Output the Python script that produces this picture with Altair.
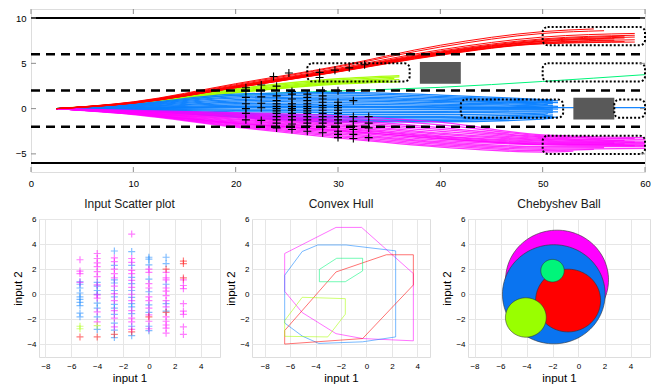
import altair as alt
import numpy as np
import pandas as pd

FONT = "Liberation Sans"

# ---------------- top panel data ----------------
TRAJ_START = (2.5, 0.0)
KNOTS5 = [10, 20, 30, 40, 50]      # x of intermediate knots (then individual end point)
KNOTS3 = [10, 20, 30]

# rows: y@10, y@20, y@30, y@40, y@50, y_end, x_end
green_traj = [[0.5, 1.5, 1.95, 2.35, 3.0, 3.75, 60]]

# rows: y@10, y@20, y@30, y_end, x_end
lime_traj = [
    [0.62, 2.2, 3.3, 3.65, 36],
    [0.58, 2.1, 3.15, 3.5, 36],
    [0.55, 2.0, 3.0, 3.35, 35.5],
    [0.52, 1.9, 2.9, 3.2, 36],
    [0.5, 1.8, 2.8, 3.05, 35],
    [0.48, 1.75, 2.7, 2.95, 36],
]

red_traj = [
    [0.75, 2.75, 4.7, 7.0, 8.5, 8.8, 55],
    [0.72, 2.65, 4.6, 6.8, 8.3, 8.6, 56],
    [0.70, 2.55, 4.45, 6.5, 7.9, 8.3, 59],
    [0.68, 2.50, 4.35, 6.35, 7.7, 8.1, 59],
    [0.66, 2.45, 4.30, 6.25, 7.6, 8.0, 58],
    [0.65, 2.42, 4.25, 6.2, 7.5, 7.9, 59],
    [0.64, 2.40, 4.20, 6.15, 7.45, 7.8, 58],
    [0.63, 2.38, 4.17, 6.1, 7.4, 7.7, 57],
    [0.62, 2.35, 4.15, 6.05, 7.3, 7.6, 59],
    [0.61, 2.33, 4.10, 6.0, 7.25, 7.5, 57],
    [0.60, 2.30, 4.08, 5.95, 7.2, 7.4, 58],
    [0.60, 2.30, 4.05, 5.9, 7.15, 7.35, 59],
]

blue_traj = [
    [0.50, 1.60, 1.80, 1.50, 1.00, 0.95, 51],
    [0.45, 1.45, 1.65, 1.35, 0.90, 0.85, 51.5],
    [0.40, 1.30, 1.50, 1.20, 0.80, 0.75, 51],
    [0.35, 1.15, 1.30, 1.05, 0.70, 0.65, 51.5],
    [0.30, 1.00, 1.15, 0.90, 0.60, 0.55, 51],
    [0.25, 0.85, 1.00, 0.80, 0.50, 0.45, 50.5],
    [0.20, 0.70, 0.85, 0.65, 0.40, 0.35, 51],
    [0.15, 0.55, 0.65, 0.50, 0.30, 0.25, 51.5],
    [0.10, 0.40, 0.50, 0.35, 0.20, 0.15, 51],
    [0.05, 0.25, 0.30, 0.20, 0.10, 0.05, 51],
    [0.05, 0.20, 0.25, 0.15, 0.10, 0.10, 60],
    [0.00, 0.10, 0.15, 0.05, 0.00, -0.05, 51.5],
    [-0.02, -0.05, -0.05, -0.10, -0.10, -0.15, 51],
    [-0.05, -0.20, -0.25, -0.30, -0.25, -0.25, 51],
    [-0.08, -0.35, -0.45, -0.45, -0.35, -0.35, 51.5],
    [-0.10, -0.50, -0.65, -0.65, -0.50, -0.45, 51],
    [-0.12, -0.60, -0.85, -0.85, -0.65, -0.55, 50.5],
    [-0.15, -0.70, -1.00, -1.00, -0.80, -0.70, 51],
    [-0.18, -0.80, -1.15, -1.15, -0.90, -0.85, 51],
    [-0.20, -0.90, -1.30, -1.30, -1.00, -0.95, 51.5],
    [-0.22, -0.95, -1.45, -1.45, -1.15, -1.05, 51],
]

magenta_traj = [
    [-0.20, -0.45, -0.80, -1.50, -2.90, -3.20, 60],
    [-0.25, -0.55, -1.00, -1.80, -3.00, -3.30, 59],
    [-0.30, -0.65, -1.20, -2.10, -3.10, -3.40, 60],
    [-0.32, -0.75, -1.35, -2.30, -3.20, -3.50, 58],
    [-0.35, -0.85, -1.50, -2.50, -3.30, -3.60, 60],
    [-0.38, -0.95, -1.65, -2.70, -3.40, -3.70, 59],
    [-0.40, -1.05, -1.80, -2.85, -3.50, -3.75, 60],
    [-0.42, -1.15, -1.95, -3.00, -3.60, -3.80, 57],
    [-0.45, -1.25, -2.10, -3.10, -3.70, -3.85, 60],
    [-0.47, -1.35, -2.20, -3.20, -3.80, -3.90, 58],
    [-0.50, -1.45, -2.35, -3.35, -3.90, -4.00, 60],
    [-0.52, -1.55, -2.50, -3.50, -4.00, -4.10, 59],
    [-0.55, -1.65, -2.65, -3.65, -4.20, -4.20, 60],
    [-0.58, -1.75, -2.80, -3.80, -4.35, -4.30, 56],
    [-0.60, -1.85, -2.95, -3.95, -4.50, -4.40, 60],
    [-0.62, -1.95, -3.10, -4.10, -4.65, -4.50, 55],
    [-0.65, -2.05, -3.25, -4.25, -4.80, -4.70, 53],
    [-0.55, -1.60, -2.40, -3.30, -3.95, -4.05, 60],
]

# black "+" markers on the top panel
mark_x = ([21.0] * 7 + [22.5] * 6 + [24.0] * 12 + [25.5] * 12 + [27.0] * 13
          + [28.5] * 13 + [30.0] * 12 + [31.5] * 7 + [33.0] * 4
          + [23.7, 25.2, 28.2, 28.2, 29.7, 31.1, 32.6])
mark_y = ([2.3, 1.96, 1.24, 0.53, 0.0, -0.53, -1.24]
          + [2.6, 2.0, 1.3, 0.6, 0.1, -1.3]
          + [2.48, 1.41, 0.88, 0.53, 0.25, 0.0, -0.25, -0.53, -0.88, -1.24, -1.6, -2.13]
          + [1.6, 1.06, 0.53, 0.25, 0.0, -0.18, -0.53, -0.88, -1.24, -1.7, -2.3, 1.9]
          + [1.6, 1.24, 0.88, 0.53, 0.25, 0.0, -0.25, -0.53, -0.88, -1.24, -1.6, -1.95, -2.5]
          + [1.96, 1.41, 1.06, 0.7, 0.35, 0.1, -0.18, -0.53, -0.88, -1.24, -1.6, -2.0, -2.66]
          + [1.96, 0.7, 0.35, 0.1, -0.18, -0.53, -0.88, -1.24, -1.6, -2.5, -2.84, -3.2]
          + [0.88, -0.88, -1.4, -1.95, -2.31, -2.84, -3.3]
          + [-0.88, -1.6, -2.13, -3.2]
          + [3.54, 3.93, 4.0, 3.44, 4.25, 4.5, 4.85])

solid_lane_y = [10, -6]
dashed_lane_y = [6, 2, -2]

zone_x1 = [27, 50, 50, 42, 57, 50]
zone_x2 = [37, 60, 60, 52, 60, 60]
zone_y1 = [3, 7, 3, -1, -1, -5]
zone_y2 = [5, 9, 5, 1, 1, -3]

obst_x1 = [38, 53]
obst_x2 = [42, 57]
obst_y1 = [2.75, -1.2]
obst_y2 = [5.15, 1.2]

top_xticks = [0, 10, 20, 30, 40, 50, 60]
top_yticks = [-5, 0, 5, 10]

# ---------------- bottom panels data ----------------
C = [-5.33, -4.0, -2.67, -1.33, 0.0, 1.33, 2.67]
scatter_blue = {
    0: [1.0, 0.8, 0.5, 0.1, -0.2, -0.4, -0.65, -0.9, -1.5, -1.8],
    1: [0.95, 0.65, 0.3, 0.0, -0.7, -1.1, -1.8, -2.8],
    2: [3.45, 2.3, 1.15, 0.9, 0.3, -0.2, -0.8, -1.1, -1.6, -2.3, -2.85, -3.45],
    3: [3.4, 2.3, 1.35, 0.85, 0.3, -0.25, -0.75, -1.0, -1.55, -2.55, -3.3],
    4: [2.95, 2.8, 2.35, 1.2, 0.2, -0.85, -1.45, -2.55, -2.9],
    5: [2.95, 2.45, 0.8, -0.75, -1.35],
}
scatter_magenta = {
    0: [2.75, 1.85, 1.65, 0.95],
    1: [3.25, 2.85, 2.5, 2.2, 1.8, 1.4, 0.75, -0.05, -0.3, -1.4, -2.2],
    2: [2.9, 2.6, 2.0, 1.65, 1.3, 0.65, 0.05, -0.5, -1.3, -1.9, -2.6],
    3: [4.8, 2.85, 2.55, 1.9, 1.65, 1.1, 0.55, 0.0, -0.5, -1.3, -1.9, -2.2, -2.8],
    4: [2.0, 1.75, 0.85, 0.5, -0.2, -0.5, -1.1, -1.65, -2.15, -2.75],
    5: [1.75, 1.3, 1.15, 0.5, 0.25, -0.1, -0.5, -1.0, -1.8, -2.15, -2.45, -2.7, -3.1],
    6: [1.15, 0.7, 0.45, -0.75, -1.35, -1.6, -2.6, -3.2],
}
scatter_red = {0: [-3.4], 1: [-3.4], 2: [-3.2], 3: [-3.0], 4: [-1.8],
               5: [2.0, -1.45], 6: [2.65, 2.45, 1.3]}
scatter_lime = {0: [-2.55, -2.75], 1: [-2.5]}

hull_magenta = [(-6.43, 3.25), (-2.39, 5.33), (-0.38, 5.33), (3.69, 1.65), (3.69, -3.71),
                (-0.3, -3.53), (-2.39, -3.14), (-5.05, -1.46), (-6.43, 0.23)]
hull_blue = [(-6.43, 1.52), (-5.05, 3.41), (-3.83, 3.93), (-1.6, 3.93), (2.3, 3.46),
             (2.3, -3.4), (-0.3, -3.79), (-3.75, -3.92), (-5.05, -3.33), (-6.43, -2.29)]
hull_red = [(-6.43, -2.89), (-2.39, 1.78), (1.57, 3.15), (3.69, 3.15), (3.69, 0.74),
            (-0.3, -3.53), (-6.43, -3.97)]
hull_green = [(-3.7, 1.98), (-2.34, 2.87), (-0.3, 2.87), (-0.3, 1.86), (-1.66, 1.0), (-3.7, 1.0)]
hull_lime = [(-5.05, -0.24), (-1.66, -0.35), (-1.66, -1.59), (-3.04, -3.4), (-6.43, -3.35),
             (-6.43, -2.1)]

ball_cx = [-1.65, -1.9, -0.8, -2.0, -4.05]
ball_cy = [1.15, 0.0, -0.5, 1.88, -1.85]
ball_r = [3.96, 3.95, 2.5, 0.9, 1.57]
ball_col = ["#ff00ff", "#0a74f0", "#ff0000", "#00f57a", "#99ff00"]

COL = {"red": "#ff0000", "lime": "#a6ff00", "green": "#00f57a",
       "blue": "#0a80ff", "magenta": "#ff00ff"}

# ---------------- layout numbers ----------------
W_TOP, H_TOP = 614, 163
H_B = 138
W_P1, W_P2, W_P3 = 181, 178, 182
SPACER_TOP, SPACER_BOT = 4, 1
GAP_12, GAP_23 = 3, 9
PAD_LEFT = 0

# ---------------- build tables ----------------
def traj_df(rows, knots, col, tag):
    recs = []
    for i, r in enumerate(rows):
        xs = [TRAJ_START[0]] + list(knots) + [r[-1]]
        ys = [TRAJ_START[1]] + list(r[:-1])
        for k, (x, y) in enumerate(zip(xs, ys)):
            recs.append({"id": f"{tag}{i}", "k": k, "x": x, "y": y, "c": col})
    return pd.DataFrame(recs)

xs_top = alt.Scale(domain=[0, 60], nice=False, zero=False)
ys_top = alt.Scale(domain=[-7, 11], nice=False, zero=False)
ax_top_x = alt.Axis(values=top_xticks, grid=False, tickSize=0, domain=False, labelFlush=False,
                    labelPadding=6, labelFontSize=9.5, title=None)
ax_top_y = alt.Axis(values=top_yticks, grid=False, tickSize=0, domain=False, labelFlush=False,
                    labelPadding=5, labelFontSize=9.5, title=None)

def TX(f):
    return alt.X(f, type="quantitative", scale=xs_top, axis=ax_top_x, title=None)

def TY(f):
    return alt.Y(f, type="quantitative", scale=ys_top, axis=ax_top_y, title=None)

def traj_layer(df, op=0.95, sw=1.3):
    return alt.Chart(df).mark_line(strokeWidth=sw, opacity=op, interpolate="monotone",
                                   clip=True).encode(
        x=TX("x"), y=TY("y"), detail="id:N", order="k:Q",
        color=alt.Color("c:N", scale=None))

layers = [
    traj_layer(traj_df(green_traj, KNOTS5, COL["green"], "g"), 1.0, 1.0),
    traj_layer(traj_df(lime_traj, KNOTS3, COL["lime"], "l")),
    traj_layer(traj_df(blue_traj, KNOTS5, COL["blue"], "b")),
    traj_layer(traj_df(magenta_traj, KNOTS5, COL["magenta"], "m"), 0.8),
    traj_layer(traj_df(red_traj, KNOTS5, COL["red"], "r"), 0.95, 1.0),
]

lanes_solid = pd.DataFrame({"y": solid_lane_y, "x0": 0, "x1": 60})
lanes_dash = pd.DataFrame({"y": dashed_lane_y, "x0": 0, "x1": 60})
layers.append(alt.Chart(lanes_solid).mark_rule(color="black", strokeWidth=2).encode(
    x=TX("x0"), x2="x1", y=TY("y")))
layers.append(alt.Chart(lanes_dash).mark_rule(color="black", strokeWidth=2.6,
                                              strokeDash=[9, 6]).encode(
    x=TX("x0"), x2="x1", y=TY("y")))

obst = pd.DataFrame({"x1": obst_x1, "x2": obst_x2, "y1": obst_y1, "y2": obst_y2})
layers.append(alt.Chart(obst).mark_rect(color="#595959").encode(
    x=TX("x1"), x2="x2", y=TY("y1"), y2="y2"))

zones = pd.DataFrame({"x1": zone_x1, "x2": zone_x2, "y1": zone_y1, "y2": zone_y2})
layers.append(alt.Chart(zones).mark_rect(fill="white", fillOpacity=0, stroke="black",
                                         strokeWidth=2, strokeDash=[2, 2], cornerRadius=5).encode(
    x=TX("x1"), x2="x2", y=TY("y1"), y2="y2"))

marks = pd.DataFrame({"x": mark_x, "y": mark_y})
layers.append(alt.Chart(marks).mark_point(shape="M-1,0L1,0M0,-1L0,1", size=64, filled=False,
                                          color="black", strokeWidth=1.1, opacity=1).encode(
    x=TX("x"), y=TY("y")))

# inward ticks
txt = pd.DataFrame({"v": top_xticks})
tyt = pd.DataFrame({"v": top_yticks})
tick_col = "#8c8c8c"
layers.append(alt.Chart(txt).mark_rule(color=tick_col).encode(
    x=TX("v"), y=alt.value(H_TOP), y2=alt.value(H_TOP - 5)))
layers.append(alt.Chart(txt).mark_rule(color=tick_col).encode(
    x=TX("v"), y=alt.value(0), y2=alt.value(5)))
layers.append(alt.Chart(tyt).mark_rule(color=tick_col).encode(
    y=TY("v"), x=alt.value(0), x2=alt.value(5)))
layers.append(alt.Chart(tyt).mark_rule(color=tick_col).encode(
    y=TY("v"), x=alt.value(W_TOP), x2=alt.value(W_TOP - 5)))

top = alt.layer(*layers).properties(width=W_TOP, height=H_TOP)

# ---------------- bottom panels ----------------
ys_b = alt.Scale(domain=[-5, 6], nice=False, zero=False)
bx_vals = [-8, -6, -4, -2, 0, 2, 4]
by_vals = [-4, -2, 0, 2, 4, 6]

def bottom_enc(xdom):
    xs = alt.Scale(domain=xdom, nice=False, zero=False)
    ax = alt.Axis(values=bx_vals, grid=True, gridColor="#e6e6e6", tickSize=0, domain=False,
                  labelFlush=False, labelPadding=5, labelFontSize=8, title="input 1",
                  titleFontSize=11.5, titleFontWeight="normal", titlePadding=2)
    ay = alt.Axis(values=by_vals, grid=True, gridColor="#e6e6e6", tickSize=0, domain=False,
                  labelFlush=False, labelPadding=3, labelFontSize=8, title="input 2",
                  titleFontSize=11.5, titleFontWeight="normal", titleX=-16)
    X = lambda f: alt.X(f, type="quantitative", scale=xs, axis=ax, title="input 1")
    Y = lambda f: alt.Y(f, type="quantitative", scale=ys_b, axis=ay, title="input 2")
    return X, Y

def ttl(t):
    return alt.TitleParams(t, fontSize=12, fontWeight="normal", offset=4, font=FONT,
                           color="#1a1a1a")

# panel 1: scatter
X1, Y1 = bottom_enc([-8.5, 5.5])
srecs = []
for name, dct in [("blue", scatter_blue), ("magenta", scatter_magenta),
                  ("red", scatter_red), ("lime", scatter_lime)]:
    for ci, ys in dct.items():
        for y in ys:
            srecs.append({"x": C[ci], "y": y, "c": COL[name]})
sdf = pd.DataFrame(srecs)
p1 = alt.Chart(sdf).mark_point(shape="M-1,0L1,0M0,-1L0,1", size=49, filled=False,
                               strokeWidth=1.2, opacity=0.5).encode(
    x=X1("x"), y=Y1("y"), color=alt.Color("c:N", scale=None)
).properties(width=W_P1, height=H_B, title=ttl("Input Scatter plot"))

# panel 2: convex hulls
X2, Y2 = bottom_enc([-9, 5])
hrecs = []
for name, poly in [("magenta", hull_magenta), ("blue", hull_blue), ("red", hull_red),
                   ("green", hull_green), ("lime", hull_lime)]:
    pts = poly + [poly[0]]
    for k, (x, y) in enumerate(pts):
        hrecs.append({"id": name, "k": k, "x": x, "y": y, "c": COL[name]})
hdf = pd.DataFrame(hrecs)
p2 = alt.Chart(hdf).mark_line(strokeWidth=1.0, opacity=0.55).encode(
    x=X2("x"), y=Y2("y"), detail="id:N", order="k:Q", color=alt.Color("c:N", scale=None)
).properties(width=W_P2, height=H_B, title=ttl("Convex Hull"))

# panel 3: Chebyshev balls
X3, Y3 = bottom_enc([-8.5, 5.5])
theta = np.linspace(0, 2 * np.pi, 121)
ball_layers = []
for i in range(len(ball_cx)):
    bdf = pd.DataFrame({"x": ball_cx[i] + ball_r[i] * np.cos(theta),
                        "y": ball_cy[i] + ball_r[i] * np.sin(theta),
                        "k": np.arange(len(theta))})
    ball_layers.append(alt.Chart(bdf).mark_line(fill=ball_col[i], stroke="#333333",
                                                strokeWidth=0.6).encode(
        x=X3("x"), y=Y3("y"), order="k:Q"))
p3 = alt.layer(*ball_layers).properties(width=W_P3, height=H_B, title=ttl("Chebyshev Ball"))

def spacer(w):
    return alt.Chart(pd.DataFrame({"v": [0]})).mark_point(opacity=0, size=0).encode(
        x=alt.value(0), y=alt.value(0)
    ).properties(width=w, height=1, view=alt.ViewBackground(stroke="transparent"))

top_row = alt.hconcat(spacer(SPACER_TOP), top, spacing=0)
bottom_row = alt.hconcat(alt.hconcat(spacer(SPACER_BOT), p1, spacing=0),
                         alt.hconcat(p2, p3, spacing=GAP_23), spacing=GAP_12)

chart = alt.vconcat(top_row, bottom_row, spacing=9).properties(
    padding={"left": PAD_LEFT, "top": 0, "right": 0, "bottom": 0}
).configure_view(stroke="#a6a6a6", strokeWidth=1).configure_axis(
    labelFont=FONT, titleFont=FONT, labelColor="#404040", titleColor="#262626"
).configure(background="white")

chart.save("out.html", embed_options={"renderer": "svg", "actions": False})
